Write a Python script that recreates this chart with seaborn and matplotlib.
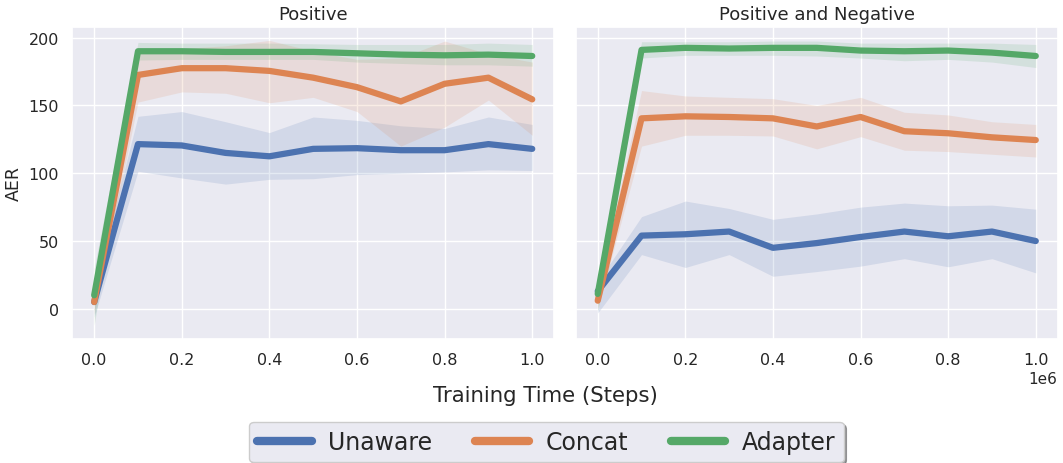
import numpy as np
import pandas as pd
import matplotlib
matplotlib.use("Agg")
import matplotlib.pyplot as plt
import seaborn as sns

steps = [0.0, 0.1e6, 0.2e6, 0.3e6, 0.4e6, 0.5e6, 0.6e6, 0.7e6, 0.8e6, 0.9e6, 1.0e6]
methods = ["Unaware", "Concat", "Adapter"]
panels = ["Positive", "Positive and Negative"]

# Positive panel
pos_unaware = [5, 121.5, 120.5, 115, 112.5, 118, 118.5, 117, 117, 121.5, 118]
pos_unaware_lo = [-6, 101.5, 96.5, 92, 95.5, 96, 99, 100, 101, 102.5, 102]
pos_unaware_hi = [15, 142, 145.5, 138, 130, 141.5, 139, 135, 133, 141.5, 136]
pos_concat = [5, 172.5, 177.5, 177.5, 175.5, 170.5, 163.5, 153, 166, 170.5, 154.5]
pos_concat_lo = [-4, 152.5, 160, 159, 152, 156, 145.5, 120, 134, 154, 128]
pos_concat_hi = [14, 188, 192, 194, 198, 190, 184, 185, 197.5, 188, 182]
pos_adapter = [10, 190, 190, 189.5, 189.5, 189.5, 188.5, 187.5, 187, 187.5, 186.5]
pos_adapter_lo = [-12, 183.5, 184, 184, 184, 184, 182, 181, 180, 180, 179]
pos_adapter_hi = [30, 196.5, 196, 196, 196, 195.5, 195, 195, 195, 196, 195]

# Positive and Negative panel
pn_unaware = [13, 54, 55, 57, 45, 48.5, 53, 57, 53.5, 57, 50]
pn_unaware_lo = [-3, 40, 30.5, 40, 24, 27.5, 31.5, 37, 31, 37, 26.5]
pn_unaware_hi = [20, 68, 79.5, 74, 66, 70, 75, 78, 76, 76.5, 73.5]
pn_concat = [6, 140.5, 142, 141.5, 140.5, 134.5, 141.5, 131, 129.5, 126.5, 124.5]
pn_concat_lo = [0, 120, 128, 128, 127.5, 118, 127, 117, 116, 114, 112]
pn_concat_hi = [14, 161, 157, 156, 155, 150, 156, 145, 143, 138, 136]
pn_adapter = [11, 191, 192.5, 192, 192.5, 192.5, 190.5, 190, 190.5, 189, 186.5]
pn_adapter_lo = [-2, 185, 187, 187, 187, 186.5, 185, 183, 184, 182, 178]
pn_adapter_hi = [22, 197, 197, 197, 197.5, 197.5, 196, 196, 196, 196, 195]

data = {
    "Positive": {
        "Unaware": (pos_unaware, pos_unaware_lo, pos_unaware_hi),
        "Concat": (pos_concat, pos_concat_lo, pos_concat_hi),
        "Adapter": (pos_adapter, pos_adapter_lo, pos_adapter_hi),
    },
    "Positive and Negative": {
        "Unaware": (pn_unaware, pn_unaware_lo, pn_unaware_hi),
        "Concat": (pn_concat, pn_concat_lo, pn_concat_hi),
        "Adapter": (pn_adapter, pn_adapter_lo, pn_adapter_hi),
    },
}

sns.set_theme(style="darkgrid")
palette = sns.color_palette("deep")
colors = {"Unaware": palette[0], "Concat": palette[1], "Adapter": palette[2]}

fig, axes = plt.subplots(1, 2, figsize=(10.63, 4.64), dpi=100, sharey=True)
fig.subplots_adjust(left=0.068, right=0.995, top=0.94, bottom=0.268, wspace=0.045)

for ax, panel in zip(axes, panels):
    for m in methods:
        mean, lo, hi = data[panel][m]
        df = pd.DataFrame({"step": steps, "AER": mean})
        sns.lineplot(data=df, x="step", y="AER", ax=ax, color=colors[m],
                     linewidth=4.5, label=m, legend=False)
        ax.fill_between(steps, lo, hi, color=colors[m], alpha=0.15, linewidth=0)
    ax.set_title(panel, fontsize=13)
    ax.set_xlabel("")
    ax.set_ylim(-22, 208)
    ax.set_xticks([0, 0.2e6, 0.4e6, 0.6e6, 0.8e6, 1.0e6])
    ax.tick_params(labelsize=11.5)

fig.canvas.draw()
axes[0].xaxis.get_offset_text().set_visible(False)
axes[0].set_ylabel("AER", fontsize=12.5)
axes[1].set_ylabel("")
fig.supxlabel("Training Time (Steps)", fontsize=15.3, x=0.513, y=0.125)

handles, labels = axes[0].get_legend_handles_labels()
leg = fig.legend(handles, labels, loc="upper center", ncol=3, bbox_to_anchor=(0.514, 0.089),
                 fontsize=17, shadow=True, frameon=True, handlelength=2.3,
                 handletextpad=0.7, columnspacing=1.8, borderpad=0.35, borderaxespad=0)
for line in leg.get_lines():
    line.set_linewidth(6)
leg.get_frame().set_facecolor("#EAEAF2")
leg.get_frame().set_edgecolor("#CCCCCC")

fig.savefig("out.png", dpi=100)
